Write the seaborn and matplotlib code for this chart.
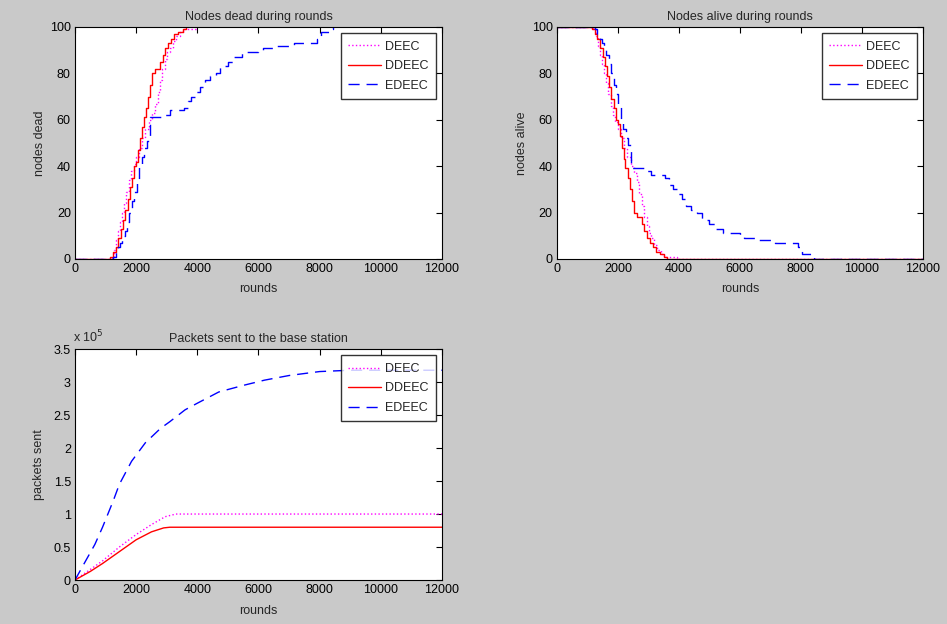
import matplotlib.pyplot as plt
import matplotlib.ticker as mticker
import pandas as pd
import seaborn as sns

# nodes dead (step data)
deec_rounds = [0, 1200, 1280, 1350, 1420, 1480, 1540, 1600, 1680, 1760, 1840, 1920, 2000, 2100, 2200,
               2300, 2420, 2520, 2620, 2700, 2780, 2860, 2940, 3020, 3100, 3200, 3300, 3420, 3520, 3950]
deec_dead = [0, 1, 4, 8, 12, 16, 20, 24, 29, 34, 38, 41, 44, 48, 52,
             56, 60, 63, 67, 72, 77, 82, 86, 89, 91, 94, 96, 98, 99, 100]

ddeec_rounds = [0, 1150, 1250, 1330, 1420, 1500, 1580, 1650, 1720, 1790, 1860, 1930, 2000, 2070, 2130, 2190,
                2250, 2320, 2390, 2460, 2530, 2620, 2780, 2870, 2950, 3050, 3150, 3250, 3380, 3520, 3620]
ddeec_dead = [0, 1, 3, 5, 9, 13, 17, 21, 26, 31, 35, 40, 42, 47, 52, 57,
              61, 65, 70, 75, 80, 82, 85, 88, 91, 93, 95, 97, 98, 99, 100]

edeec_rounds = [0, 1250, 1330, 1400, 1470, 1540, 1620, 1700, 1780, 1860, 1940, 2020, 2100, 2180, 2260, 2340,
                2440, 2900, 3100, 3550, 3680, 3800, 3950, 4100, 4250, 4400, 4600, 4750, 5000, 5200, 5450,
                6000, 6150, 6600, 7150, 7900, 8050, 8350, 8430]
edeec_dead = [0, 1, 3, 5, 7, 10, 12, 16, 20, 25, 29, 34, 40, 44, 48, 51,
              61, 62, 64, 65, 68, 70, 72, 74, 77, 79, 80, 83, 85, 87, 89,
              90, 91, 92, 93, 95, 98, 99, 100]

total_nodes = 100
max_rounds = 12000

# packets sent to the base station
pk_deec_rounds = [0, 500, 900, 1450, 2000, 2500, 2950, 3300, 12000]
pk_deec = [0, 16000, 29000, 50000, 69000, 84000, 96000, 100000, 100000]
pk_ddeec_rounds = [0, 500, 900, 1450, 2000, 2500, 2900, 3100, 12000]
pk_ddeec = [0, 13000, 25000, 43000, 61000, 73000, 79000, 80000, 80000]
pk_edeec_rounds = [0, 300, 650, 900, 1250, 1450, 1850, 2300, 2800, 3100, 3600, 4000, 4700, 5500,
                   6200, 7000, 8000, 9000, 12000]
pk_edeec = [0, 25000, 54000, 80000, 120000, 145000, 180000, 208000, 230000, 240000, 258000, 268000,
            285000, 295000, 303000, 310000, 316000, 318000, 318000]

protocols = ["DEEC", "DDEEC", "EDEEC"]
colors = {"DEEC": "#ff00ff", "DDEEC": "#ff0000", "EDEEC": "#0000ff"}
styles = {"DEEC": ":", "DDEEC": "-", "EDEEC": (0, (8, 5))}

series = [("DEEC", deec_rounds, deec_dead),
          ("DDEEC", ddeec_rounds, ddeec_dead),
          ("EDEEC", edeec_rounds, edeec_dead)]
dead = pd.concat([pd.DataFrame({"round": r, "dead": d, "protocol": p}) for p, r, d in series])
alive = pd.concat([pd.DataFrame({"round": r + [max_rounds], "dead": d + [total_nodes], "protocol": p})
                   for p, r, d in series])
alive["alive"] = total_nodes - alive["dead"]

packets = pd.concat([
    pd.DataFrame({"round": r, "packets": v, "protocol": p})
    for p, r, v in [("DEEC", pk_deec_rounds, pk_deec),
                    ("DDEEC", pk_ddeec_rounds, pk_ddeec),
                    ("EDEEC", pk_edeec_rounds, pk_edeec)]
])

sns.set_style("white")
plt.rcParams["font.family"] = ["Liberation Sans Narrow", "Liberation Sans", "DejaVu Sans"]
plt.rcParams["font.size"] = 9

fig = plt.figure(figsize=(9.47, 6.24), dpi=100, facecolor="#c9c9c9")
ax1 = fig.add_axes([0.0792, 0.585, 0.3875, 0.3718])
ax2 = fig.add_axes([0.588, 0.585, 0.3865, 0.3718])
ax3 = fig.add_axes([0.0792, 0.0705, 0.3875, 0.370])


def draw(ax, data, ycol, steps):
    for p in protocols:
        sub = data[data["protocol"] == p]
        kw = {"drawstyle": "steps-post"} if steps else {}
        sns.lineplot(data=sub, x="round", y=ycol, color=colors[p], linestyle=styles[p],
                     lw=1.0, label=p, ax=ax, estimator=None, sort=False, **kw)
    ax.set_xlim(0, max_rounds)
    ax.set_xticks(range(0, max_rounds + 1, 2000))
    ax.tick_params(direction="in", top=True, right=True, length=4, width=0.8,
                   labelsize=9, pad=3, colors="black")
    for s in ax.spines.values():
        s.set_color("black")
        s.set_linewidth(0.8)
    ax.set_xlabel("rounds", fontsize=9, labelpad=6)
    leg = ax.legend(loc="upper right", frameon=True, fancybox=False, edgecolor="black",
                    fontsize=9, handlelength=2.6, handletextpad=0.3, borderpad=0.6,
                    borderaxespad=0.5, labelspacing=0.6)
    leg.get_frame().set_linewidth(1.0)


draw(ax1, dead, "dead", True)
ax1.set_ylim(0, 100)
ax1.set_yticks(range(0, 101, 20))
ax1.set_ylabel("nodes dead", fontsize=9, labelpad=3)
ax1.set_title("Nodes dead during rounds", fontsize=9, pad=5)

draw(ax2, alive, "alive", True)
ax2.set_ylim(0, 100)
ax2.set_yticks(range(0, 101, 20))
ax2.set_ylabel("nodes alive", fontsize=9, labelpad=3)
ax2.set_title("Nodes alive during rounds", fontsize=9, pad=5)

draw(ax3, packets, "packets", False)
ax3.set_ylim(0, 350000)
ax3.set_yticks(range(0, 350001, 50000))
ax3.yaxis.set_major_formatter(mticker.FuncFormatter(lambda v, pos: f"{v / 1e5:g}"))
ax3.set_ylabel("packets sent", fontsize=9, labelpad=6)
ax3.set_title("Packets sent to the base station", fontsize=9, pad=5)
ax3.text(-0.005, 1.015, r"x 10$^{5}$", transform=ax3.transAxes, fontsize=9, ha="left", va="bottom")

fig.savefig("out.png", dpi=100, facecolor=fig.get_facecolor())
